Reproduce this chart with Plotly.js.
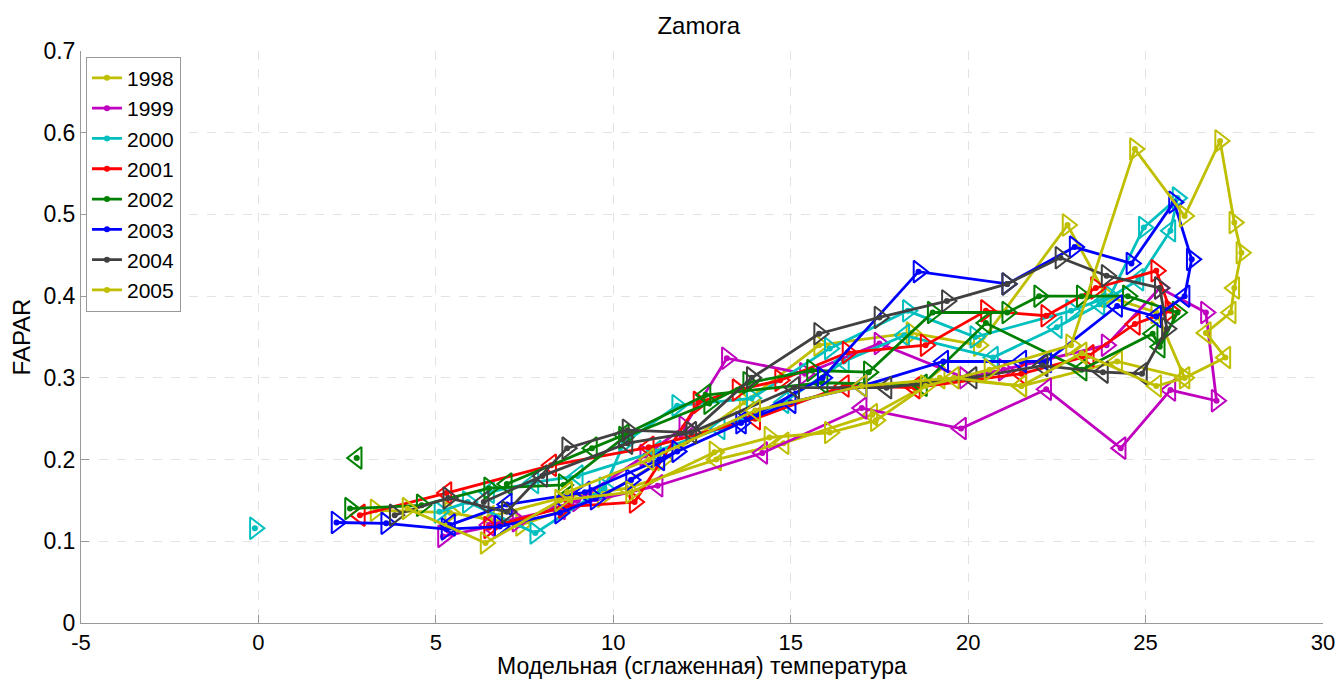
<!DOCTYPE html>
<html>
<head>
<meta charset="utf-8">
<script src="https://cdn.plot.ly/plotly-3.0.1.min.js"></script>
<style>html,body{margin:0;padding:0;background:#fff;}#chart{width:1336px;height:679px;}</style>
</head>
<body>
<div id="chart"></div>
<script>
// ---- data (temperature, FAPAR) ----
const years = ["1998","1999","2000","2001","2002","2003","2004","2005"];

const t1998 = [3.3, 5.4, 7.4, 9.7, 11.4, 13.7, 15.8, 18.4, 20.3, 22.8, 23.9, 25.3, 26.1, 24.2, 21.5, 19.2, 17.3, 14.8, 12.9, 10.4, 8.7, 6.5];
const f1998 = [0.138, 0.135, 0.120, 0.155, 0.200, 0.270, 0.340, 0.355, 0.340, 0.487, 0.400, 0.380, 0.300, 0.320, 0.290, 0.300, 0.255, 0.220, 0.200, 0.165, 0.155, 0.130];

const t1999 = [5.2, 7.3, 9.0, 10.9, 12.0, 13.2, 15.4, 17.5, 19.9, 21.0, 23.9, 25.4, 26.7, 27.0, 25.7, 24.3, 22.2, 19.8, 17.0, 14.2, 11.25, 8.5, 6.5];
const f1999 = [0.106, 0.125, 0.150, 0.205, 0.240, 0.324, 0.305, 0.342, 0.300, 0.310, 0.340, 0.410, 0.380, 0.272, 0.285, 0.214, 0.286, 0.238, 0.263, 0.208, 0.168, 0.140, 0.120];

const t2000 = [-0.1, null, 5.1, 5.9, 7.8, 9.75, 10.3, 11.8, 13.9, 16.1, 18.3, 20.2, 22.9, 24.0, 24.95, 25.9, 25.7, 24.8, 23.7, 22.5, 20.7, 18.2, 16.5, 14.8, 13.0, 11.2, 9.0, 7.75, 6.5];
const f2000 = [0.116, null, 0.136, 0.148, 0.110, 0.165, 0.220, 0.266, 0.275, 0.336, 0.382, 0.350, 0.382, 0.400, 0.484, 0.520, 0.480, 0.420, 0.390, 0.362, 0.325, 0.352, 0.320, 0.270, 0.238, 0.210, 0.180, 0.172, 0.160];

const t2001 = [6.5, 8.6, 10.6, 12.4, 13.5, 14.7, 16.6, 18.8, 20.5, 22.2, 23.6, 25.3, 25.7, 24.7, 23.4, 21.5, 18.5, 16.5, 14.0, 11.0, 8.25, 5.3, 2.86];
const f2001 = [0.117, 0.142, 0.148, 0.270, 0.285, 0.297, 0.331, 0.340, 0.382, 0.376, 0.410, 0.431, 0.382, 0.366, 0.327, 0.305, 0.288, 0.290, 0.250, 0.215, 0.193, 0.159, 0.132];

const t2002 = [2.58, 4.6, 6.5, 8.6, 10.3, 12.7, 13.8, 15.6, 17.2, 19.0, 21.1, 22.0, 23.2, 24.5, 25.9, 25.4, 25.2, 23.2, 20.5, 18.7, 15.9, 12.6, 10.3, 9.4, 7.0, null, 2.77];
const f2002 = [0.140, 0.144, 0.165, 0.169, 0.227, 0.269, 0.294, 0.309, 0.307, 0.380, 0.380, 0.400, 0.400, 0.400, 0.380, 0.338, 0.354, 0.310, 0.367, 0.291, 0.294, 0.279, 0.230, 0.214, 0.170, null, 0.202];

const t2003 = [2.2, 3.6, 5.3, 6.8, 8.5, 9.5, 10.5, 11.8, 13.6, 15.9, 18.6, 21.1, 23.0, 24.6, 25.8, 26.3, 26.1, 25.3, 24.2, 22.2, 21.5, 19.3, 17.0, 15.0, 13.6, 11.3, 9.2, 7.0, 5.4];
const f2003 = [0.123, 0.122, 0.115, 0.118, 0.135, 0.152, 0.175, 0.210, 0.245, 0.300, 0.430, 0.415, 0.460, 0.440, 0.515, 0.445, 0.400, 0.375, 0.388, 0.320, 0.320, 0.320, 0.290, 0.270, 0.245, 0.200, 0.160, 0.145, 0.120];

const t2004 = [3.84, 5.35, 7.0, 8.7, 10.4, 12.2, 13.9, 15.8, 17.5, 19.4, 21.1, 22.6, 23.9, 25.4, 25.6, 24.9, 23.8, 22.1, 20.1, 17.7, 15.1, 12.2, 10.4, 8.0, 6.35];
const f2004 = [0.132, 0.153, 0.136, 0.214, 0.236, 0.233, 0.300, 0.354, 0.374, 0.394, 0.415, 0.447, 0.425, 0.410, 0.360, 0.305, 0.307, 0.315, 0.300, 0.288, 0.288, 0.233, 0.220, 0.180, 0.148];

const t2005 = [4.2, 6.4, 8.5, 10.5, 12.85, 14.4, 16.1, 17.4, 18.8, 20.6, 22.9, 24.7, 26.1, 27.1, 27.5, 27.7, 27.5, 27.4, 26.7, 27.25, 26.1, 25.3, 23.2, 21.5, 19.6, 17.0, 14.0, 11.0, 8.7];
const f2005 = [0.140, 0.098, 0.150, 0.160, 0.209, 0.227, 0.233, 0.248, 0.290, 0.310, 0.340, 0.580, 0.498, 0.590, 0.490, 0.453, 0.410, 0.380, 0.355, 0.325, 0.300, 0.290, 0.330, 0.290, 0.300, 0.290, 0.260, 0.200, 0.160];

const xTickVals = [-5, 0, 5, 10, 15, 20, 25, 30];
const xTickText = ["-5", "0", "5", "10", "15", "20", "25", "30"];
const yTickVals = [0, 0.1, 0.2, 0.3, 0.4, 0.5, 0.6, 0.7];
const yTickText = ["0", "0.1", "0.2", "0.3", "0.4", "0.5", "0.6", "0.7"];
const xTitle = "Модельная (сглаженная) температура";

// ---- styling ----
const colors = ["#BFBF00", "#BF00BF", "#00BFBF", "#FF0000", "#008000", "#0000FF", "#404040", "#BFBF00"];
const T = [t1998, t1999, t2000, t2001, t2002, t2003, t2004, t2005];
const F = [f1998, f1999, f2000, f2001, f2002, f2003, f2004, f2005];

const traces = [];
years.forEach((yr, k) => {
  const t = T[k], f = F[k];
  let imax = 0;
  t.forEach((v, i) => { if (v !== null && v > t[imax]) imax = i; });
  const sym = t.map((v, i) => i <= imax ? "triangle-right-open" : "triangle-left-open");
  traces.push({
    x: t, y: f, type: "scatter", mode: "lines+markers", name: yr,
    line: {color: colors[k], width: 2.8},
    marker: {color: colors[k], size: 6, symbol: "circle"},
    connectgaps: false, legendgroup: yr
  });
  traces.push({
    x: t, y: f, type: "scatter", mode: "markers", showlegend: false, legendgroup: yr,
    marker: {color: colors[k], size: 19, symbol: sym, line: {width: 2, color: colors[k]}},
    hoverinfo: "skip"
  });
});

const font = "Liberation Sans, Arial, sans-serif";
const layout = {
  width: 1336, height: 679,
  margin: {l: 81, r: 13, t: 51, b: 56},
  paper_bgcolor: "#fff", plot_bgcolor: "#fff",
  font: {family: font, size: 23, color: "#000"},
  title: {text: "Zamora", font: {family: font, size: 24, color: "#000"}, x: 0.523, xanchor: "center", y: 0.963, yanchor: "middle"},
  showlegend: true,
  legend: {x: 0.004, y: 0.99, xanchor: "left", yanchor: "top", bgcolor: "#fff", bordercolor: "#999", borderwidth: 1,
           font: {family: font, size: 21, color: "#000"}, itemwidth: 30, tracegroupgap: 0},
  xaxis: {range: [-5, 30], tickvals: xTickVals, ticktext: xTickText, showgrid: true, gridcolor: "#e3e3e3", griddash: "dash",
          zeroline: false, showline: true, linecolor: "#9a9a9a", linewidth: 1, ticks: "inside", ticklen: 8, tickcolor: "#9a9a9a",
          ticklabeloverflow: "allow",
          tickfont: {family: font, size: 22, color: "#000"}},
  yaxis: {range: [0, 0.7], tickvals: yTickVals, ticktext: yTickText, showgrid: true, gridcolor: "#e3e3e3", griddash: "dash",
          zeroline: false, showline: true, linecolor: "#9a9a9a", linewidth: 1, ticks: "inside", ticklen: 8, tickcolor: "#9a9a9a",
          tickfont: {family: font, size: 23, color: "#000"},
          title: {text: "FAPAR", font: {family: font, size: 24, color: "#000"}, standoff: 6}},
  annotations: [{
    text: xTitle, xref: "paper", yref: "paper", x: 0.5, y: -0.0755, xanchor: "center", yanchor: "middle",
    showarrow: false, font: {family: font, size: 23, color: "#000"}
  }]
};

Plotly.newPlot("chart", traces, layout, {displayModeBar: false, staticPlot: true});
</script>
</body>
</html>
